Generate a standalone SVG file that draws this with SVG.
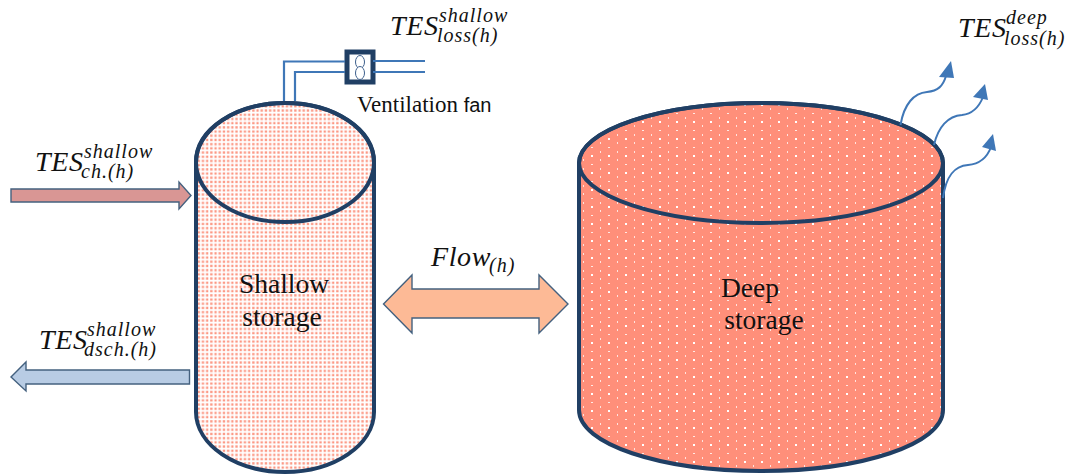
<svg xmlns="http://www.w3.org/2000/svg" width="1070" height="475" viewBox="0 0 1070 475">
<style>
.m{font-family:"Liberation Serif","DejaVu Serif",serif;font-style:italic;fill:#111}
.b{font-size:28px;letter-spacing:.6px}.s{font-size:20px;letter-spacing:1px}
.t{font-family:"Liberation Serif",serif;font-size:27.500px;fill:#111;text-anchor:middle}
.c{stroke:#203f64;stroke-width:4}
.o{fill:none}
.p{fill:none;stroke:#3f77b7;stroke-width:2.2}
.w{fill:none;stroke:#3f77b7;stroke-width:2}
.h{fill:#3f77b7}
.a{stroke:#44617f;stroke-width:1.4}
</style>
<defs>
<pattern id="sd" width="8.4" height="8.4" patternUnits="userSpaceOnUse">
<rect width="8.4" height="8.4" fill="#fff"/>
<g fill="#fc9682"><rect x="0.2" y="0.2" width="2.300" height="2.300"/><rect x="4.4" y="0.2" width="2.300" height="2.300"/><rect x="0.2" y="4.4" width="2.300" height="2.300"/><rect x="4.4" y="4.4" width="2.300" height="2.300"/></g>
</pattern>
<pattern id="dd" width="17" height="17" patternUnits="userSpaceOnUse" patternTransform="translate(702 232)">
<rect width="17" height="17" fill="#ff8f7a"/>
<g fill="#fff"><rect x="8" y="0" width="2" height="1" opacity=".8"/><rect x="8" y="8" width="2" height="2"/>
<rect x="0" y="4" width="1" height="2" opacity=".75"/><rect x="0" y="12" width="1" height="2" opacity=".75"/></g>
</pattern>
</defs>

<g id="shallow-storage">
<path d="M196 162V412C196 445 236 472 285 472S374 445 374 412V162C374 129 334 103 285 103S196 129 196 162Z" fill="url(#sd)" class="c"/>
<ellipse cx="285" cy="162.500" rx="89" ry="59.500" class="c o"/>
<text class="t" x="284" y="293">Shallow</text>
<text class="t" x="282" y="326">storage</text>
</g>

<g id="deep-storage">
<path d="M579 163V410C579 444 660 471 761 471S943 444 943 410V163C943 130 862 103 761 103S579 130 579 163Z" fill="url(#dd)" class="c"/>
<ellipse cx="761" cy="163" rx="182" ry="60" class="c o"/>
<text class="t" x="750" y="297">Deep</text>
<text class="t" x="764" y="329">storage</text>
</g>

<g id="ventilation-fan">
<rect x="347" y="52" width="26" height="30" fill="#fff" stroke="#203f64" stroke-width="5"/>
<ellipse cx="360" cy="62" rx="4.500" ry="6.500" fill="#fff" stroke="#3d5f8c" stroke-width="1"/>
<ellipse cx="360" cy="73" rx="4.500" ry="6.500" fill="#fff" stroke="#3d5f8c" stroke-width="1"/>
<text x="357" y="112" font-family="Liberation Serif,serif" font-size="23" fill="#111">Ventilation <tspan font-family="Liberation Sans,sans-serif" font-size="20">fan</tspan></text>
</g>

<g id="connectors">
<path class="p" d="M284 101V61.500H345M295 101V72H345M373 61H425M373 72H425"/>
<path class="w" d="M900.500 125C904 104 914 93 927 92C938 91 943 86 946 76"/>
<path class="h" d="M939 77 951 61 954 78Z"/>
<path class="w" d="M934 145C938 127 948 116 962 115C972 114 979 107 983 97"/>
<path class="h" d="M973 97 985 84 988 100Z"/>
<path class="w" d="M943 198C946 176 954 166 968 165C979 164 987 158 991 147"/>
<path class="h" d="M982 147 993 134 996 151Z"/>
</g>

<g id="charge-arrow"><path class="a" fill="#d99694" d="M11 189H179V182L191 195.500 179 209V202H11Z"/></g>
<g id="discharge-arrow"><path class="a" fill="#b8cce4" d="M189.500 370H26V362L11 377 26 391V384H189.500Z"/></g>
<g id="flow-arrow"><path class="a" fill="#fdba96" d="M383.500 304 412 275V289H539V275L568 304 539 333V318H412V333Z"/></g>

<g id="labels">
<text class="m b" x="390" y="35">TES</text><text class="m s" x="439" y="22">shallow</text><text class="m s" x="437" y="42">loss(h)</text>
<text class="m b" x="958" y="37">TES</text><text class="m s" x="1006" y="24">deep</text><text class="m s" x="1004" y="45">loss(h)</text>
<text class="m b" x="35" y="171">TES</text><text class="m s" x="84" y="158">shallow</text><text class="m s" x="81" y="178">ch.(h)</text>
<text class="m b" x="39" y="349">TES</text><text class="m s" x="87" y="336">shallow</text><text class="m s" x="84" y="356">dsch.(h)</text>
<text class="m b" x="431" y="266">Flow</text><text class="m s" x="489" y="272">(h)</text>
</g>
</svg>
